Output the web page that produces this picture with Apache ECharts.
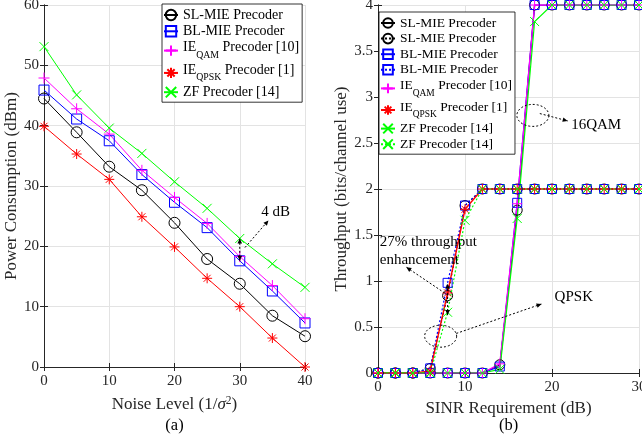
<!DOCTYPE html>
<html>
<head>
<meta charset="utf-8">
<script src="https://cdn.jsdelivr.net/npm/echarts@6/dist/echarts.min.js"></script>
<style>html,body{margin:0;padding:0;background:#fff;}#c{width:642px;height:437px;}</style>
</head>
<body>
<div id="c"></div>
<script>
// ---------- Data: (a) power consumption vs noise level ----------
const noiseLevels = [0, 5, 10, 15, 20, 25, 30, 35, 40];
const powerSL   = [44.5, 38.9, 33.2, 29.3, 23.9, 17.9, 13.8, 8.5, 5.1];
const powerBL   = [45.9, 41.1, 37.5, 31.9, 27.3, 23.1, 17.6, 12.6, 7.3];
const powerIEQ  = [47.9, 42.8, 38.6, 32.6, 28.1, 23.8, 18.3, 13.5, 8.0];
const powerIEP  = [39.9, 35.3, 31.1, 24.9, 19.9, 14.7, 10.0, 4.8, 0.0];
const powerZF   = [53.1, 45.1, 39.6, 35.4, 30.7, 26.3, 21.3, 17.1, 13.2];

// ---------- Data: (b) throughput vs SINR requirement ----------
const sinrLevels = [0, 2, 4, 6, 8, 10, 12, 14, 16, 18, 20, 22, 24, 26, 28, 30];
const thrSL16   = [0, 0, 0, 0, 0, 0, 0, 0.09, 1.77, 4, 4, 4, 4, 4, 4, 4];
const thrSLqpsk = [0, 0, 0, 0.05, 0.84, 1.82, 2, 2, 2, 2, 2, 2, 2, 2, 2, 2];
const thrBL16   = [0, 0, 0, 0, 0, 0, 0, 0.07, 1.85, 4, 4, 4, 4, 4, 4, 4];
const thrBLqpsk = [0, 0, 0, 0.05, 0.98, 1.82, 2, 2, 2, 2, 2, 2, 2, 2, 2, 2];
const thrIEQAM  = [0, 0, 0, 0, 0, 0, 0, 0.10, 1.84, 4, 4, 4, 4, 4, 4, 4];
const thrIEQPSK = [0, 0, 0, 0.02, 0.87, 1.78, 2, 2, 2, 2, 2, 2, 2, 2, 2, 2];
const thrZF16   = [0, 0, 0, 0, 0, 0, 0, 0.04, 1.68, 3.82, 4, 4, 4, 4, 4, 4];
const thrZFqpsk = [0, 0, 0, 0, 0.66, 1.66, 2, 2, 2, 2, 2, 2, 2, 2, 2, 2];

const leftTicksX = [0, 10, 20, 30, 40];
const leftTicksY = [0, 10, 20, 30, 40, 50, 60];
const rightTicksX = [0, 10, 20, 30];
const rightTicksY = [0, 0.5, 1, 1.5, 2, 2.5, 3, 3.5, 4];

// ---------- Styling ----------
const FONT = 'Liberation Serif';
const C = {black:'#000000', blue:'#0000ff', magenta:'#ff00ff', red:'#ff0000', green:'#00ff00'};
const SYM = {
  circle: 'circle',
  square: 'rect',
  plus: 'path://M0,-1L0,1M-1,0L1,0',
  star: 'path://M0,-1L0,1M-1,0L1,0M-0.7,-0.7L0.7,0.7M-0.7,0.7L0.7,-0.7',
  cross: 'path://M-1,-1L1,1M-1,1L1,-1'
};
const pairs = (xs, ys) => xs.map((x, i) => [x, ys[i]]);

function mk(name, xs, ys, color, sym, size, axisIdx, dashed, lw) {
  return {
    name: name, type: 'line', xAxisIndex: axisIdx, yAxisIndex: axisIdx,
    data: pairs(xs, ys), symbol: SYM[sym], symbolSize: size, showAllSymbol: true,
    lineStyle: {color: color, width: lw, type: dashed ? [2, 2] : 'solid'},
    itemStyle: {color: 'transparent', borderColor: color, borderWidth: 1},
    emphasis: {disabled: true}, animation: false, z: 3
  };
}

const legendNames = {
  'a-SL': 'SL-MIE Precoder', 'a-BL': 'BL-MIE Precoder', 'a-IEQ': 'IE|QAM| Precoder [10]',
  'a-IEP': 'IE|QPSK| Precoder [1]', 'a-ZF': 'ZF Precoder [14]',
  'b-SL16': 'SL-MIE Precoder', 'b-SLq': 'SL-MIE Precoder', 'b-BL16': 'BL-MIE Precoder',
  'b-BLq': 'BL-MIE Precoder', 'b-IEQ': 'IE|QAM| Precoder [10]', 'b-IEP': 'IE|QPSK| Precoder [1]',
  'b-ZF16': 'ZF Precoder [14]', 'b-ZFq': 'ZF Precoder [14]'
};
function legendFmt(name) {
  const t = legendNames[name];
  const parts = t.split('|');
  if (parts.length === 1) return '{n|' + t + '}';
  return '{m|' + parts[0] + '}{s|' + parts[1] + '}{m|' + parts[2] + '}';
}
function legendRich(fs) {
  return {
    n: {fontFamily: FONT, fontSize: fs, lineHeight: fs, color: '#000'},
    m: {fontFamily: FONT, fontSize: fs, lineHeight: fs, padding: [0, 0, 6, 0], color: '#000'},
    s: {fontFamily: FONT, fontSize: fs * 0.7, lineHeight: 10, padding: [10, 0, 0, 0], color: '#000'}
  };
}

function axesFor(gridIdx, min, max, interval, isX, margin) {
  const common = {
    type: 'value', gridIndex: gridIdx, min: min, max: max, interval: interval,
    axisLine: {show: true, lineStyle: {color: '#262626', width: 1}},
    axisTick: {show: true, inside: true, length: 4, lineStyle: {color: '#262626'}},
  };
  const main = Object.assign({}, common, {
    position: isX ? 'bottom' : 'left',
    axisLabel: {show: true, fontFamily: FONT, fontSize: 15, color: '#262626', margin: margin},
    splitLine: {show: true, lineStyle: {color: '#e3e3e3', width: 1}}
  });
  const opp = Object.assign({}, common, {
    position: isX ? 'top' : 'right',
    axisLabel: {show: false}, splitLine: {show: false}
  });
  return [main, opp];
}

const xa0 = axesFor(0, 0, 40, 10, true, 7);
const ya0 = axesFor(0, 0, 60, 10, false, 5);
const xa1 = axesFor(1, 0, 30, 10, true, 7);
const ya1 = axesFor(1, 0, 4, 0.5, false, 5);

const NF = 17;
const nameStyle = {fontFamily: FONT, fontSize: NF, color: '#262626',
  rich: {i: {fontFamily: FONT, fontSize: NF, fontStyle: 'italic', color: '#262626'},
         sup: {fontFamily: FONT, fontSize: 11.5, padding: [0, 0, 9, 0], color: '#262626'}}};

Object.assign(xa0[0], {name: 'Noise Level (1/{i|σ}{sup|2})', nameLocation: 'middle', nameGap: 27.5, nameTextStyle: nameStyle});
Object.assign(ya0[0], {name: 'Power Consumption (dBm)', nameLocation: 'middle', nameGap: 12.5, nameTextStyle: nameStyle});
Object.assign(xa1[0], {name: 'SINR Requirement (dB)', nameLocation: 'middle', nameGap: 25, nameTextStyle: nameStyle});
Object.assign(ya1[0], {name: 'Throughput (bits/channel use)', nameLocation: 'middle', nameGap: 24.5, nameTextStyle: nameStyle});

const series = [
  mk('a-SL',  noiseLevels, powerSL,  C.black,   'circle', 11, 0, false, 1),
  mk('a-BL',  noiseLevels, powerBL,  C.blue,    'square', 10, 0, false, 1),
  mk('a-IEQ', noiseLevels, powerIEQ, C.magenta, 'plus',   11, 0, false, 1),
  mk('a-IEP', noiseLevels, powerIEP, C.red,     'star',   10, 0, false, 1),
  mk('a-ZF',  noiseLevels, powerZF,  C.green,   'cross',  9,  0, false, 1),
  mk('b-SL16', sinrLevels, thrSL16,   C.black,   'circle', 10, 2, false, 1.2),
  mk('b-SLq',  sinrLevels, thrSLqpsk, C.black,   'circle', 10, 2, true,  1.2),
  mk('b-BL16', sinrLevels, thrBL16,   C.blue,    'square', 9,  2, false, 1.2),
  mk('b-BLq',  sinrLevels, thrBLqpsk, C.blue,    'square', 9,  2, true,  1.2),
  mk('b-IEQ',  sinrLevels, thrIEQAM,  C.magenta, 'plus',   10, 2, false, 1.4),
  mk('b-IEP',  sinrLevels, thrIEQPSK, C.red,     'star',   10, 2, false, 1.4),
  mk('b-ZF16', sinrLevels, thrZF16,   C.green,   'cross',  9,  2, false, 1.2),
  mk('b-ZFq',  sinrLevels, thrZFqpsk, C.green,   'cross',  9,  2, true,  1.2)
];

const option = {
  animation: false,
  backgroundColor: '#ffffff',
  grid: [
    {left: 44, right: 337, top: 5, bottom: 70, show: false, outerBoundsMode: 'none', containLabel: false},
    {left: 378, right: 3, top: 5, bottom: 64, show: false, outerBoundsMode: 'none', containLabel: false}
  ],
  xAxis: [xa0[0], xa0[1], xa1[0], xa1[1]],
  yAxis: [ya0[0], ya0[1], ya1[0], ya1[1]],
  legend: [
    {
      data: ['a-SL', 'a-BL', 'a-IEQ', 'a-IEP', 'a-ZF'], orient: 'vertical',
      left: 162, top: 4, itemWidth: 14, itemHeight: 13, itemGap: 2.3,
      padding: [4, 3, 3, 1], backgroundColor: '#fff', borderColor: '#000', borderWidth: 0.8,
      formatter: legendFmt, textStyle: {fontFamily: FONT, fontSize: 14, color: '#000', rich: legendRich(14)},
      selectedMode: false
    },
    {
      data: ['b-SL16', 'b-SLq', 'b-BL16', 'b-BLq', 'b-IEQ', 'b-IEP', 'b-ZF16', 'b-ZFq'], orient: 'vertical',
      left: 379, top: 12, itemWidth: 14, itemHeight: 12, itemGap: 1.6,
      padding: [4, 3, 3, 1], backgroundColor: '#fff', borderColor: '#000', borderWidth: 0.8,
      formatter: legendFmt, textStyle: {fontFamily: FONT, fontSize: 13.5, color: '#000', rich: legendRich(13.5)},
      selectedMode: false
    }
  ],
  series: series
};

const chart = echarts.init(document.getElementById('c'), null, {renderer: 'canvas'});
chart.setOption(option);

// ---------- Annotations (anchored in data coordinates) ----------
const P = (ax, pt) => chart.convertToPixel({xAxisIndex: ax, yAxisIndex: ax}, pt);
const DASH = [2, 2];
const g = [];
function dline(a, b) {
  g.push({type: 'line', shape: {x1: a[0], y1: a[1], x2: b[0], y2: b[1]},
    style: {stroke: '#000', lineWidth: 1, lineDash: DASH}, z: 100});
}
function head(from, to) {
  const dx = to[0] - from[0], dy = to[1] - from[1];
  const L = Math.hypot(dx, dy), ux = dx / L, uy = dy / L;
  const len = 5, w = 2.3;
  const bx = to[0] - ux * len, by = to[1] - uy * len;
  g.push({type: 'polygon', shape: {points: [to, [bx - uy * w, by + ux * w], [bx + uy * w, by - ux * w]]},
    style: {fill: '#000'}, z: 101});
}
function arrow(a, b, both) { dline(a, b); head(a, b); if (both) head(b, a); }
function ellipse(c, rx, ry) {
  const pts = [];
  for (let k = 0; k <= 60; k++) { const t = k / 60 * Math.PI * 2; pts.push([c[0] + rx * Math.cos(t), c[1] + ry * Math.sin(t)]); }
  g.push({type: 'polyline', shape: {points: pts}, style: {stroke: '#000', lineWidth: 1, lineDash: DASH, fill: null}, z: 100});
}
function label(p, text, extra) {
  g.push({type: 'text', x: p[0], y: p[1], z: 102,
    style: Object.assign({text: text, fontFamily: FONT, fontSize: 15, fill: '#000', align: 'left', verticalAlign: 'middle'}, extra || {})});
}

// (a) 4 dB gap
arrow(P(0, [30, 17.6]), P(0, [30, 21.3]), true);
arrow(P(0, [30.8, 19.8]), P(0, [34.4, 24.3]), false);
label(P(0, [33.3, 25.7]), '4 dB');

// (b) 27% enhancement
arrow(P(2, [8, 0.63]), P(2, [8, 0.97]), true);
arrow(P(2, [8.05, 0.845]), P(2, [3.26, 1.15]), false);
label(P(2, [0.2, 1.325]), '27% throughput\nenhancement', {lineHeight: 17.5});
// QPSK ellipse
const cq = P(2, [7.2, 0.40]);
ellipse(cq, 16, 11);
arrow(P(2, [9.0, 0.43]), P(2, [18.8, 0.75]), false);
label(P(2, [20.3, 0.83]), 'QPSK');
// 16QAM ellipse
const c16 = P(2, [17.8, 2.80]);
ellipse(c16, 16, 11);
arrow(P(2, [18.6, 2.82]), P(2, [21.8, 2.74]), false);
label(P(2, [22.2, 2.69]), '16QAM');

// sub-figure captions
const capA = P(0, [20, 0]); const capB = P(2, [15, 0]);
label([capA[0], capA[1] + 59], '(a)', {align: 'center', fontSize: 16.5});
label([capB[0], capB[1] + 53], '(b)', {align: 'center', fontSize: 16.5});

chart.setOption({graphic: g});
</script>
</body>
</html>
